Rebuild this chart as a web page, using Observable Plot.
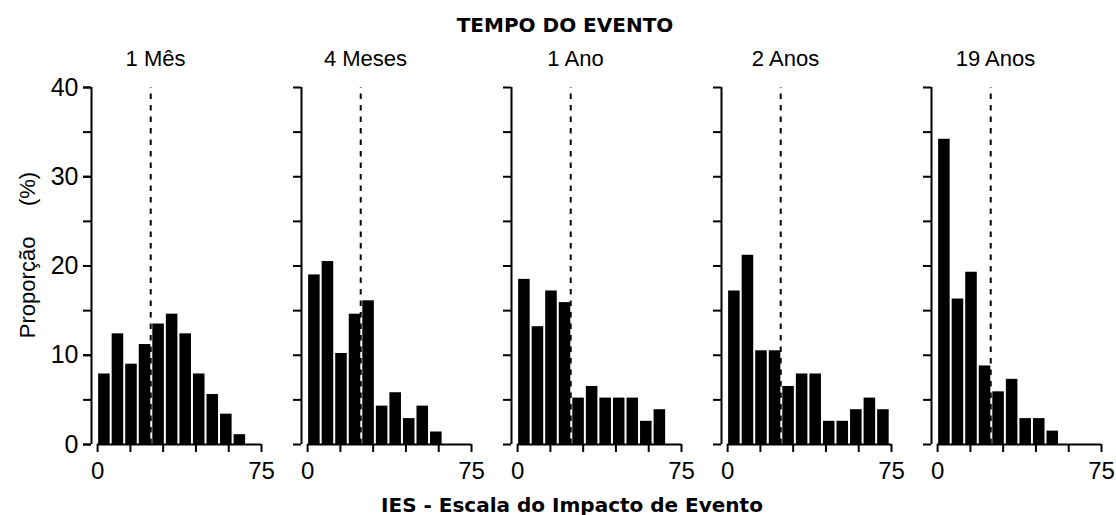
<!DOCTYPE html>
<html>
<head>
<meta charset="utf-8">
<script src="https://cdn.jsdelivr.net/npm/d3@7"></script>
<script src="https://cdn.jsdelivr.net/npm/@observablehq/plot@0.6"></script>
<style>
  body { margin: 0; background: #fff; font-family: "Liberation Sans", Arial, sans-serif; overflow: hidden; }
  #wrap { width: 1116px; }
  .top, .bottom { box-sizing: border-box; width: 1116px; text-align: center; font-family: "DejaVu Sans", sans-serif; font-weight: bold; font-size: 20px; white-space: nowrap; overflow: visible; line-height: 50px; }
  .top { height: 40px; padding-left: 14px; }
  .bottom { height: 35px; padding-left: 28px; }
  svg { display: block; }
</style>
</head>
<body>
<div id="wrap">
  <div class="top">TEMPO DO EVENTO</div>
  <div id="chart"></div>
  <div class="bottom">IES - Escala do Impacto de Evento</div>
</div>
<script>
// Panels (time since the event)
const panels = ["1 Mês", "4 Meses", "1 Ano", "2 Anos", "19 Anos"];

// Histogram bins on the IES score (0–75)
const binStart = [0, 6.2, 12.4, 18.6, 24.8, 31.0, 37.2, 43.4, 49.6, 55.8, 62.0, 68.2];
const binEnd   = [6.2, 12.4, 18.6, 24.8, 31.0, 37.2, 43.4, 49.6, 55.8, 62.0, 68.2, 74.4];

// Proportion (%) per bin
const mes1    = [7.9, 12.4, 9.0, 11.2, 13.5, 14.6, 12.4, 7.9, 5.6, 3.4, 1.1];
const meses4  = [19.0, 20.5, 10.2, 14.6, 16.1, 4.3, 5.8, 2.9, 4.3, 1.4];
const ano1    = [18.5, 13.2, 17.2, 15.9, 5.2, 6.5, 5.2, 5.2, 5.2, 2.6, 3.9];
const anos2   = [17.2, 21.2, 10.5, 10.5, 6.5, 7.9, 7.9, 2.6, 2.6, 3.9, 5.2, 3.9];
const anos19  = [34.2, 16.3, 19.3, 8.8, 5.9, 7.3, 2.9, 2.9, 1.5];

// Cut-off (dashed line)
const cutoff = 24.3;

// Tick values and labels
const yTicks  = [0, 5, 10, 15, 20, 25, 30, 35, 40];
const yLabels = [0, 10, 20, 30, 40];
const xTicks  = [0, 15, 30, 45, 60, 75];
const xLabels = [0, 75];
const yTitle  = "Proporção\u00a0\u00a0\u00a0\u00a0\u00a0(%)";

const series = [mes1, meses4, ano1, anos2, anos19];
const rows = series.flatMap((vals, i) =>
  vals.map((v, j) => ({panel: panels[i], x1: binStart[j], x2: binEnd[j], y: v})));
const perPanel = panels.map(p => ({panel: p}));

const chart = Plot.plot({
  width: 1116,
  height: 440,
  marginTop: 47,
  marginBottom: 36,
  marginLeft: 89,
  marginRight: 13,
  style: {fontFamily: "'Liberation Sans', Arial, sans-serif", background: "white", color: "black", overflow: "visible"},
  fx: {domain: panels, paddingInner: 0.19, paddingOuter: 0, axis: null, label: null},
  x: {domain: [-2.8, 75], axis: null},
  y: {domain: [0, 40], axis: null},
  marks: [
    Plot.rectY(rows, {fx: "panel", x1: "x1", x2: "x2", y: "y", fill: "black", insetLeft: 1, insetRight: 1}),
    // axis lines
    Plot.ruleY(perPanel, {fx: "panel", y: () => 0, x1: () => 0, x2: () => 75, stroke: "black", strokeWidth: 2}),
    Plot.ruleX(perPanel, {fx: "panel", x: () => -2.8, y1: () => 0, y2: () => 40, stroke: "black", strokeWidth: 2}),
    // dashed cut-off line
    Plot.ruleX(perPanel, {fx: "panel", x: () => cutoff, y1: () => 0, y2: () => 40, stroke: "black", strokeWidth: 2, strokeDasharray: "5.5,6"}),
    // y ticks on every panel
    Plot.axisY(yTicks, {facetAnchor: null, anchor: "left", tickSize: 8, strokeWidth: 2, tickFormat: () => "", label: null}),
    // y labels on the first panel
    Plot.axisY(yLabels, {anchor: "left", tickSize: 8, tickPadding: 5, strokeWidth: 2, fontSize: 25, label: null}),
    // x ticks and labels on every panel
    Plot.axisX(xTicks, {facetAnchor: null, anchor: "bottom", tickSize: 8, tickPadding: 9, strokeWidth: 2, fontSize: 24,
      tickFormat: d => xLabels.includes(d) ? String(d) : "", label: null}),
    // panel titles
    Plot.axisFx({anchor: "top", tickSize: 0, tickPadding: 22, dx: -21, fontSize: 22, label: null}),
    // y axis title
    Plot.text([yTitle], {facet: "super", frameAnchor: "left", text: d => d, rotate: -90, dx: -64, dy: -11,
      fontSize: 22, textAnchor: "middle", lineAnchor: "middle", fill: "black"})
  ]
});
document.getElementById("chart").appendChild(chart);
</script>
</body>
</html>
